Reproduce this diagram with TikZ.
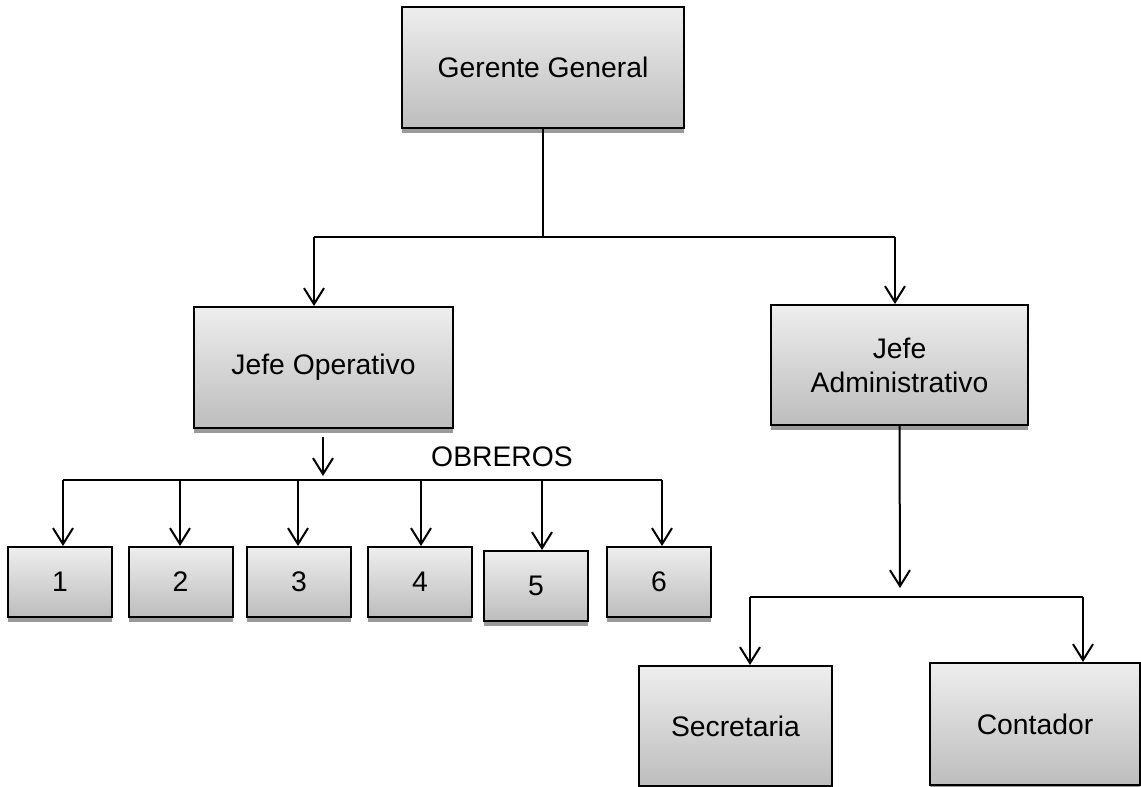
\documentclass[tikz,border=0pt]{standalone}
\usepackage{fontspec}
\setmainfont{Liberation Sans}
\usetikzlibrary{arrows.meta, shadows}
\definecolor{BOXTOP}{HTML}{EEEEEE}
\definecolor{BOXBOT}{HTML}{BDBDBD}
\definecolor{SHADOW}{HTML}{9A9A9A}
\definecolor{BLACK}{HTML}{000000}

\begin{document}
\begin{tikzpicture}[x=1pt, y=-1pt,
    puesto/.style={draw=BLACK, line width=2pt, top color=BOXTOP, bottom color=BOXBOT,
        inner sep=0pt, align=center, font=\fontsize{28.3}{34}\selectfont,
        drop shadow={shadow xshift=0pt, shadow yshift=-5pt, opacity=1, fill=SHADOW}},
    linea/.style={BLACK, line width=2pt},
    flecha/.style={linea, -{Straight Barb[length=16pt, width=20pt]}}]
    \useasboundingbox (0,0) rectangle (1141,787);
    % cajas
    \node[puesto, minimum width=282pt, minimum height=121pt] (gerente) at (543,67.5) {Gerente General};
    \node[puesto, minimum width=259pt, minimum height=121pt] (operativo) at (323.5,367.5) {Jefe Operativo};
    \node[puesto, minimum width=257pt, minimum height=120pt] (admin) at (899.5,365) {Jefe\\Administrativo};
    \node[puesto, minimum width=193pt, minimum height=120pt] (secretaria) at (735.5,726) {Secretaria};
    \node[puesto, minimum width=210pt, minimum height=122pt] (contador) at (1035,724) {Contador};
    \foreach \i/\x/\y in {1/60/582, 2/180.5/582, 3/299/582, 4/420/582, 5/536/586, 6/659/582}
        \node[puesto, minimum width=104pt, minimum height=70pt] (o\i) at (\x,\y) {\i};
    \node[font=\fontsize{28.3}{34}\selectfont] (obreros) at (502,457) {OBREROS};
    % gerente
    \coordinate (gj) at (543,237);
    \coordinate (bl) at (314,237);
    \coordinate (br) at (895,237);
    \draw[linea] (gerente.south) -- (gj);
    \draw[linea] (bl) -- (br);
    \draw[flecha] (bl) -- (bl |- operativo.north);
    \draw[flecha] (br) -- (br |- admin.north);
    % obreros
    \coordinate (op) at (323,437);
    \coordinate (ob) at (323,476);
    \draw[flecha] (op) -- (ob);
    \draw[linea] (63,480) -- (662,480);
    \foreach \i/\x in {1/63, 2/180, 3/298, 4/421, 5/542, 6/662} {
        \coordinate (t\i) at (\x,480);
        \draw[flecha] (t\i) -- (t\i |- o\i.north);
    }
    % administrativo
    \coordinate (ad) at (900,588);
    \coordinate (sl) at (750,597);
    \coordinate (sr) at (1083,597);
    \draw[flecha] (admin.south) -- (ad);
    \draw[linea] (sl) -- (sr);
    \draw[flecha] (sl) -- (sl |- secretaria.north);
    \draw[flecha] (sr) -- (sr |- contador.north);
\end{tikzpicture}
\end{document}
